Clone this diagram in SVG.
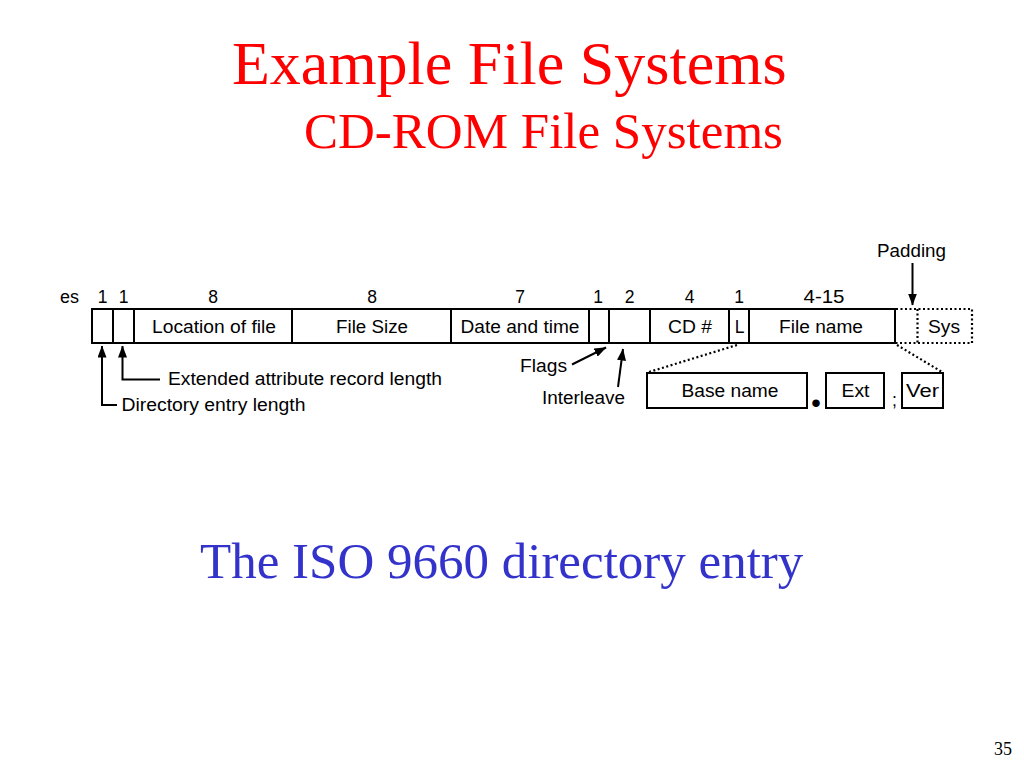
<svg xmlns="http://www.w3.org/2000/svg" width="1024" height="768" viewBox="0 0 1024 768">
<style>
  .ttl { font-family: "Liberation Serif", "Times New Roman", serif; }
  .lbl { font-family: "Liberation Sans", Arial, sans-serif; font-size: 17.5px; fill: #000; }
  .mid { text-anchor: middle; }
  .box { fill: #fff; stroke: #000; stroke-width: 2; }
  .dot { fill: none; stroke: #000; stroke-width: 2.2; stroke-dasharray: 2 2.5; }
  .ln { fill: none; stroke: #000; stroke-width: 2; }
</style>
<defs>
  <marker id="ah" viewBox="0 0 12 9" refX="11.5" refY="4.5" markerWidth="12" markerHeight="9" markerUnits="userSpaceOnUse" orient="auto">
    <path d="M0,0 L12,4.5 L0,9 Z" fill="#000"/>
  </marker>
</defs>
<rect width="1024" height="768" fill="#fff"/>

<text class="ttl" x="232" y="84" font-size="62" fill="#ff0000">Example File Systems</text>
<text class="ttl" x="304" y="148" font-size="51" fill="#ff0000">CD-ROM File Systems</text>

<g id="byte-sizes" class="lbl mid">
  <text x="69.5" y="303" textLength="19" lengthAdjust="spacingAndGlyphs">es</text>
  <text x="102.5" y="303">1</text>
  <text x="123.5" y="303">1</text>
  <text x="213" y="303">8</text>
  <text x="372" y="303">8</text>
  <text x="520" y="303">7</text>
  <text x="598" y="303">1</text>
  <text x="629.5" y="303">2</text>
  <text x="689.5" y="303">4</text>
  <text x="739" y="303">1</text>
  <text x="824" y="303" textLength="41" lengthAdjust="spacingAndGlyphs">4-15</text>
</g>

<g id="dir-entry-length"><rect class="box" x="92" y="309" width="21" height="34"/></g>
<g id="ext-attr-length"><rect class="box" x="113" y="309" width="21" height="34"/></g>
<g id="location"><rect class="box" x="134" y="309" width="158" height="34"/>
  <text class="lbl mid" x="214" y="333" textLength="124" lengthAdjust="spacingAndGlyphs">Location of file</text></g>
<g id="file-size"><rect class="box" x="292" y="309" width="159" height="34"/>
  <text class="lbl mid" x="372" y="333" textLength="72" lengthAdjust="spacingAndGlyphs">File Size</text></g>
<g id="date-time"><rect class="box" x="451" y="309" width="138" height="34"/>
  <text class="lbl mid" x="520" y="333" textLength="119" lengthAdjust="spacingAndGlyphs">Date and time</text></g>
<g id="flags"><rect class="box" x="589" y="309" width="20" height="34"/></g>
<g id="interleave"><rect class="box" x="609" y="309" width="41" height="34"/></g>
<g id="cd-number"><rect class="box" x="650" y="309" width="79" height="34"/>
  <text class="lbl mid" x="690" y="333" textLength="44" lengthAdjust="spacingAndGlyphs">CD #</text></g>
<g id="l-field"><rect class="box" x="729" y="309" width="20" height="34"/>
  <text class="lbl mid" x="739.5" y="333">L</text></g>
<g id="file-name"><rect class="box" x="749" y="309" width="146" height="34"/>
  <text class="lbl mid" x="821" y="333" textLength="84" lengthAdjust="spacingAndGlyphs">File name</text></g>
<g id="padding-sys">
  <path class="dot" d="M896,309 H972 V343 H896"/>
  <line class="dot" x1="917.5" y1="309" x2="917.5" y2="343"/>
  <text class="lbl mid" x="944" y="333" textLength="32" lengthAdjust="spacingAndGlyphs">Sys</text>
</g>

<g id="base-name"><rect class="box" x="647" y="373" width="160" height="35"/>
  <text class="lbl mid" x="730" y="397" textLength="97" lengthAdjust="spacingAndGlyphs">Base name</text></g>
<text class="ttl mid" x="816" y="407" font-size="46" font-weight="bold" fill="#000">.</text>
<g id="ext"><rect class="box" x="826" y="373" width="58" height="35"/>
  <text class="lbl mid" x="855.5" y="397" textLength="28" lengthAdjust="spacingAndGlyphs">Ext</text></g>
<text class="lbl mid" x="894.5" y="406" font-size="13">;</text>
<g id="ver"><rect class="box" x="902" y="373" width="41" height="35"/>
  <text class="lbl mid" x="922.5" y="397" textLength="33" lengthAdjust="spacingAndGlyphs">Ver</text></g>

<g id="labels" class="lbl">
  <text x="877" y="257" textLength="69" lengthAdjust="spacingAndGlyphs">Padding</text>
  <text x="520" y="372" textLength="47" lengthAdjust="spacingAndGlyphs">Flags</text>
  <text x="542" y="404" textLength="83" lengthAdjust="spacingAndGlyphs">Interleave</text>
  <text x="168" y="385" textLength="274" lengthAdjust="spacingAndGlyphs">Extended attribute record length</text>
  <text x="121.5" y="411" textLength="184" lengthAdjust="spacingAndGlyphs">Directory entry length</text>
</g>

<g id="connectors">
  <polyline class="ln" points="117,405 102,405 102,346" marker-end="url(#ah)"/>
  <polyline class="ln" points="160,379.5 122.5,379.5 122.5,346" marker-end="url(#ah)"/>
  <line class="ln" x1="572" y1="364.5" x2="606" y2="347.5" marker-end="url(#ah)"/>
  <line class="ln" x1="618" y1="387" x2="623" y2="349" marker-end="url(#ah)"/>
  <line class="ln" x1="912.5" y1="263" x2="912.5" y2="305" marker-end="url(#ah)"/>
  <line class="dot" x1="737" y1="345" x2="649" y2="372"/>
  <line class="dot" x1="897" y1="345" x2="942" y2="372"/>
</g>

<text class="ttl" x="200" y="578" font-size="51" fill="#3333cc">The ISO 9660 directory entry</text>
<text class="ttl" x="994" y="755" font-size="18" fill="#000">35</text>
</svg>
